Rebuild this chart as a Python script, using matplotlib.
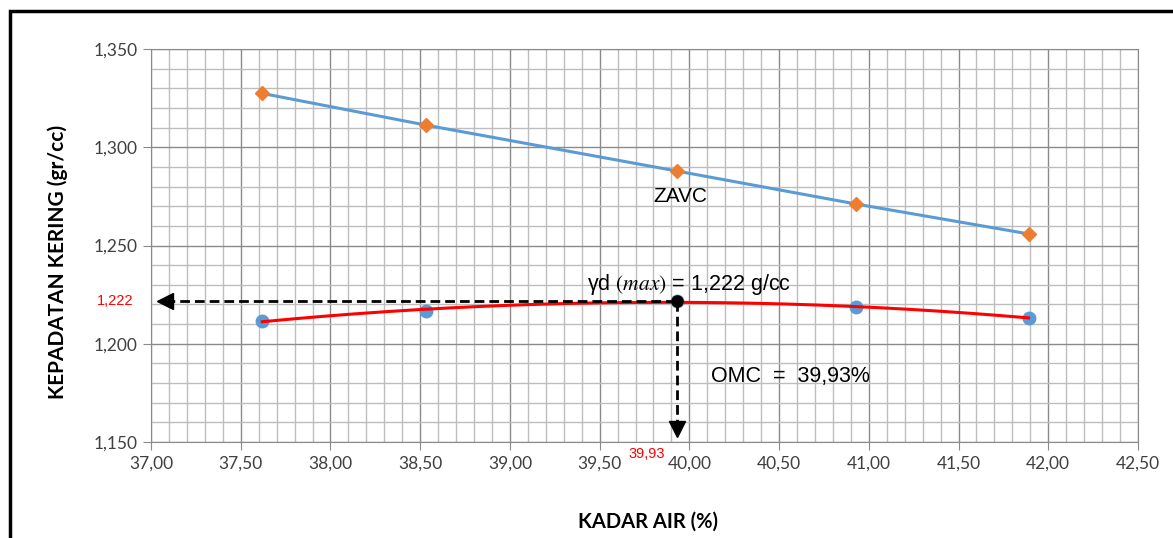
import numpy as np
import matplotlib
matplotlib.use("Agg")
from matplotlib import pyplot as plt
from matplotlib.ticker import MultipleLocator, FuncFormatter
from matplotlib.patches import Rectangle

# data
kadar_air = [37.62, 38.53, 39.93, 40.93, 41.89]
zavc = [1.3274, 1.3113, 1.2879, 1.2711, 1.2559]
kepadatan = [1.2116, 1.2167, 1.2218, 1.2187, 1.2131]
omc = 39.93
gd_max = 1.222

plt.rcParams['mathtext.fontset'] = 'stix'

W, H = 1173, 538
fig = plt.figure(figsize=(W / 100, H / 100), dpi=100)
ax = fig.add_axes([151/W, 1 - 442/H, 987/W, 393/H])

ax.set_xlim(37.0, 42.5)
ax.set_ylim(1.150, 1.350)
ax.xaxis.set_major_locator(MultipleLocator(0.5))
ax.xaxis.set_minor_locator(MultipleLocator(0.1))
ax.yaxis.set_major_locator(MultipleLocator(0.05))
ax.yaxis.set_minor_locator(MultipleLocator(0.01))
ax.xaxis.set_major_formatter(FuncFormatter(lambda v, p: f"{v:.2f}".replace('.', ',')))
ax.yaxis.set_major_formatter(FuncFormatter(lambda v, p: f"{v:.3f}".replace('.', ',')))
ax.grid(which='minor', color='#bdbdbd', lw=1.0)
ax.grid(which='major', color='#8a8a8a', lw=1.0)
ax.set_axisbelow(True)
for s in ax.spines.values():
    s.set_color('#8a8a8a')
ax.tick_params(which='major', length=6, color='#8a8a8a', labelsize=12.5, labelcolor='#404040')
ax.tick_params(which='minor', length=0)
for lab in ax.get_xticklabels() + ax.get_yticklabels():
    lab.set_family('Lato')

# ZAVC line
ax.plot(kadar_air, zavc, color='#5b9bd5', lw=2.2, zorder=3)
ax.plot(kadar_air, zavc, 'D', color='#ed7d31', ms=7, zorder=4)

# compaction points with polynomial trendline
coef = np.polyfit(kadar_air, kepadatan, 2)
xs = np.linspace(kadar_air[0], kadar_air[-1], 200)
ax.plot(kadar_air, kepadatan, 'o', color='#5b9bd5', ms=9, zorder=3)
ax.plot(xs, np.polyval(coef, xs), color='#ff0000', lw=2.2, zorder=4)

# dashed arrows to the axes
x_left, y_bot = 37.08, 1.1565
ax.plot([x_left, omc], [gd_max, gd_max], color='black', lw=2, ls=(0, (3.5, 1.8)), zorder=5)
ax.plot([omc, omc], [y_bot, gd_max], color='black', lw=2, ls=(0, (3.5, 1.8)), zorder=5)
ax.plot([x_left], [gd_max], marker='<', color='black', ms=11, zorder=5)
ax.plot([omc], [y_bot], marker='v', color='black', ms=11, zorder=5)
ax.plot([omc], [gd_max], 'o', color='black', ms=8, zorder=6)

ax.text(39.95, 1.2747, 'ZAVC', fontsize=15, family='Liberation Sans', ha='center', va='center')
ax.text(40.00, 1.2304, r'γd $(max)$ = 1,222 g/cc', fontsize=15.5, family='Liberation Sans',
        ha='center', va='center')
ax.text(40.12, 1.1833, 'OMC  =  39,93%', fontsize=15.5, family='Liberation Sans',
        ha='left', va='center')
ax.text(36.90, gd_max, '1,222', color='red', fontsize=10.5, family='Liberation Sans',
        ha='right', va='center')
ax.text(omc - 0.17, 1.1440, '39,93', color='red', fontsize=10.5, family='Liberation Sans',
        ha='center', va='center')

fig.text(648/W, 1 - 522/H, 'KADAR AIR (%)', fontsize=14.5, fontweight='bold', family='Lato',
         ha='center', va='center')
fig.text(58/W, 1 - 262/H, 'KEPADATAN KERING (gr/cc)', fontsize=15, fontweight='bold',
         family='Lato', ha='center', va='center', rotation=90)

# outer frame
fig.patches.append(Rectangle((10/W, -0.05), 1.2, 1 - 11/H + 0.05, transform=fig.transFigure,
                             fill=False, ec='black', lw=2.5))

fig.savefig('out.png', dpi=100)
